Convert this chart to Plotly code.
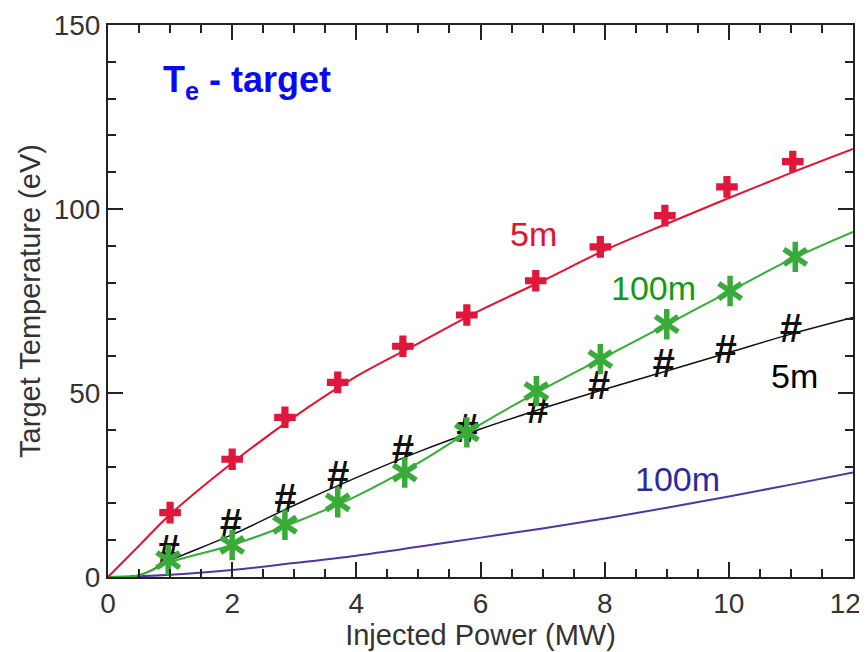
import plotly.graph_objects as go

# ---- data ----
# smooth model curves (sampled)
curve_x = [0, 0.5, 1, 2, 3, 4, 5, 6, 7, 8, 9, 10, 11, 12]
red_curve = [0, 8.5, 17, 31, 43.5, 54.5, 63.5, 72.5, 80.5, 88.8, 96, 103, 109.8, 116.3]
black_curve = [0, 0.5, 4.5, 11.5, 19.5, 27, 34, 40.2, 45.8, 51, 56, 61, 66, 70.5]
green_curve = [0, 0.5, 4, 8.7, 14.8, 22, 31, 41.5, 51, 59.8, 68.6, 77.5, 86.3, 93.8]
purple_curve = [0, 0.2, 0.6, 1.9, 3.8, 5.8, 8.2, 10.7, 13.2, 15.9, 18.8, 21.9, 25.1, 28.4]

# simulation points
red_x = [1.0, 2.0, 2.85, 3.7, 4.75, 5.78, 6.89, 7.93, 8.97, 9.97, 11.03]
red_y = [17.5, 32, 43.4, 52.9, 62.7, 71.2, 80.5, 89.7, 98.2, 106, 112.9]

black_x = [0.97, 1.97, 2.85, 3.7, 4.74, 5.78, 6.91, 7.9, 8.94, 9.94, 10.99]
black_y = [6.5, 13.6, 20.5, 26.5, 33.8, 39.5, 44.7, 51, 57, 61, 66.5]

green_x = [0.97, 2.0, 2.85, 3.7, 4.78, 5.78, 6.9, 7.93, 9.0, 10.02, 11.07]
green_y = [4.6, 8.7, 14.2, 20.3, 28.4, 39.3, 50.5, 59.2, 68.7, 77.7, 87]

labels = ["5m", "100m", "5m", "100m"]
label_x = [6.85, 8.78, 11.05, 9.17]
label_y = [93.3, 78.4, 54.5, 26.5]
label_colors = ["#e8102e", "#129a12", "#000000", "#2b2b9c"]

x_ticks = [0, 2, 4, 6, 8, 10, 12]
# last label padded so it stays inside the window edge
x_ticktext = ["0", "2", "4", "6", "8", "10", "12\u00a0\u00a0"]
y_ticks = [0, 50, 100, 150]
x_range = [0, 12]
y_range = [0, 150]

RED = "#e0163a"
GREEN = "#3aab3a"
BLACK = "#111111"
PURPLE = "#5234a4"
FONT = "Liberation Sans, Arial, sans-serif"

fig = go.Figure()

fig.add_trace(go.Scatter(x=curve_x, y=purple_curve, mode="lines",
                         line=dict(color=PURPLE, width=2, shape="spline"),
                         showlegend=False))
fig.add_trace(go.Scatter(x=curve_x, y=black_curve, mode="lines",
                         line=dict(color=BLACK, width=1.5, shape="spline"),
                         showlegend=False))
fig.add_trace(go.Scatter(x=curve_x, y=green_curve, mode="lines",
                         line=dict(color="#33b033", width=2, shape="spline"),
                         showlegend=False))
fig.add_trace(go.Scatter(x=curve_x, y=red_curve, mode="lines",
                         line=dict(color="#e8102e", width=2, shape="spline"),
                         showlegend=False))

# black '#' markers
fig.add_trace(go.Scatter(x=black_x, y=black_y, mode="text",
                         text=["#"] * len(black_x), textposition="middle center",
                         textfont=dict(family=FONT, size=40, color=BLACK,
                                       weight="bold", style="italic"),
                         showlegend=False))

# green asterisks (6 arms)
for sym in ["y-up-open", "y-down-open"]:
    fig.add_trace(go.Scatter(x=green_x, y=green_y, mode="markers",
                             marker=dict(symbol=sym, size=19, color=GREEN,
                                         line=dict(color=GREEN, width=5.5)),
                             showlegend=False))

# red crosses
fig.add_trace(go.Scatter(x=red_x, y=red_y, mode="markers",
                         marker=dict(symbol="cross", size=18, color=RED,
                                     line=dict(width=0)),
                         showlegend=False))

for t, xx, yy, c in zip(labels, label_x, label_y, label_colors):
    fig.add_annotation(x=xx, y=yy, text=t, showarrow=False, xanchor="center", yanchor="middle",
                       font=dict(family=FONT, size=34, color=c))

fig.add_annotation(x=2.24, y=134.6, text="<b>T<sub>e</sub> - target</b>", showarrow=False,
                   xanchor="center", yanchor="middle",
                   font=dict(family=FONT, size=36, color="#0a0af0"))

axis_common = dict(
    showgrid=False, zeroline=False, showline=True, linecolor="#222222", linewidth=2,
    mirror="allticks", ticks="inside", tickcolor="#222222", tickwidth=1.5, ticklen=15,
    tickfont=dict(family=FONT, size=28, color="#333333"), automargin=False,
    ticklabeloverflow="allow",
)

fig.update_xaxes(range=x_range, tickmode="array", tickvals=x_ticks,
                 ticktext=x_ticktext,
                 minor=dict(dtick=0.5, tick0=0, ticks="inside", ticklen=8,
                            tickcolor="#222222", tickwidth=1.5),
                 title=dict(text="Injected Power (MW)", standoff=6,
                            font=dict(family=FONT, size=29, color="#333333")),
                 **axis_common)
fig.update_yaxes(range=y_range, tickmode="array", tickvals=y_ticks,
                 ticktext=[str(v) for v in y_ticks],
                 minor=dict(dtick=10, tick0=0, ticks="inside", ticklen=8,
                            tickcolor="#222222", tickwidth=1.5),
                 title=dict(text="Target Temperature (eV)", standoff=5,
                            font=dict(family=FONT, size=29, color="#333333")),
                 **axis_common)

# the page body adds an 8px margin, so the figure is sized to the remaining window
fig.update_layout(
    width=859, height=644,
    margin=dict(l=100, r=14, t=17, b=75),
    paper_bgcolor="white", plot_bgcolor="white",
    showlegend=False,
)

fig.write_html("out.html")
